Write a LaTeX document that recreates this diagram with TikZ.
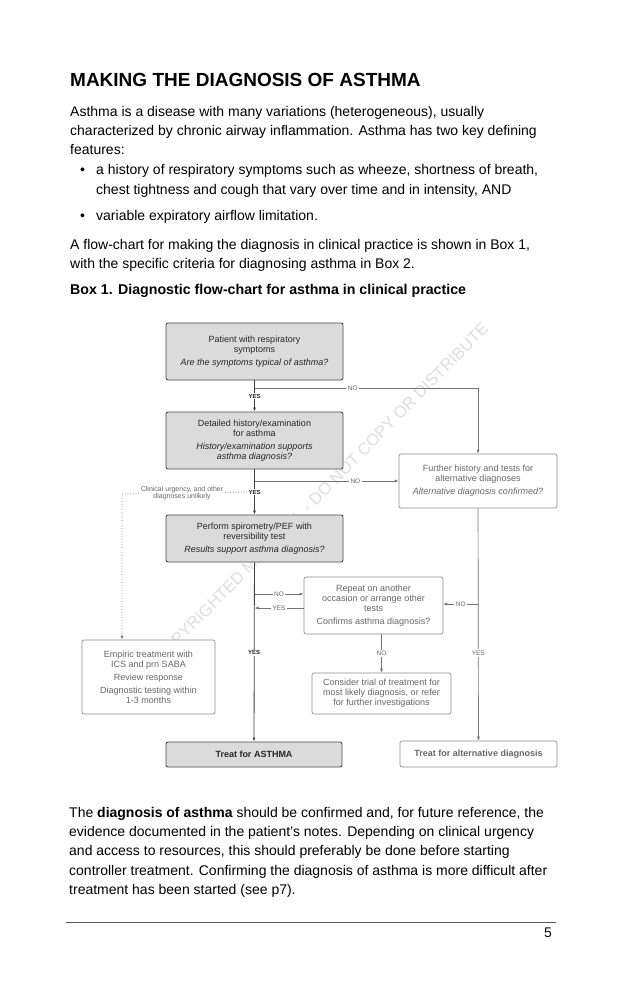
\documentclass[tikz,border=0pt]{standalone}
\usepackage{fontspec}
\setmainfont{Liberation Sans}
\usetikzlibrary{arrows.meta}

\begin{document}
\begin{tikzpicture}[x=1pt,y=-1pt,
  txt/.style={anchor=base west,inner sep=0pt,font=\fontsize{14}{19}\selectfont},
  darkbox/.style={draw=black!70,fill=black!14,rounded corners=2pt,line width=0.9pt,align=center,
    inner sep=0pt,font=\fontsize{9}{10}\selectfont,text=black!85},
  lightbox/.style={draw=black!45,fill=white,rounded corners=2pt,line width=0.7pt,align=center,
    inner sep=0pt,font=\fontsize{9}{10}\selectfont,text=black!60},
  arr/.style={-{Latex[length=4pt,width=3pt]},draw=black!75,line width=0.8pt},
  garr/.style={-{Latex[length=4pt,width=3pt]},draw=black!55,line width=0.7pt},
  ylbl/.style={fill=white,inner sep=1pt,font=\fontsize{6}{6}\selectfont\bfseries,text=black!85},
  glbl/.style={fill=white,inner sep=1.5pt,font=\fontsize{6.5}{7}\selectfont,text=black!60}]

\fill[white] (0,0) rectangle (638,987);
\useasboundingbox (0,0) rectangle (638,987);

% text above the chart
\node[txt,font=\fontsize{19}{20}\selectfont\bfseries] (title) at (70,87) {MAKING THE DIAGNOSIS OF ASTHMA};
\node[txt] (p1) at (70,117) {Asthma is a disease with many variations (heterogeneous), usually};
\node[txt] (p2) at (70,136) {characterized by chronic airway inflammation. Asthma has two key defining};
\node[txt] (p3) at (70,155) {features:};
\node[txt] (b1dot) at (80,175) {•};
\node[txt] (b1) at (96,175) {a history of respiratory symptoms such as wheeze, shortness of breath,};
\node[txt] (b1b) at (96,194) {chest tightness and cough that vary over time and in intensity, AND};
\node[txt] (b2dot) at (80,220) {•};
\node[txt] (b2) at (96,220) {variable expiratory airflow limitation.};
\node[txt] (p4) at (70,249) {A flow-chart for making the diagnosis in clinical practice is shown in Box 1,};
\node[txt] (p5) at (70,268) {with the specific criteria for diagnosing asthma in Box 2.};
\node[txt,font=\fontsize{14.2}{19}\selectfont\bfseries] (boxtitle) at (70,294) {Box 1. Diagnostic flow-chart for asthma in clinical practice};

% watermark
\node[rotate=45.5,text=black!13,font=\fontsize{16.5}{16}\selectfont] (wmark) at (321,493)
  {COPYRIGHTED MATERIAL - DO NOT COPY OR DISTRIBUTE};

% boxes
\node[darkbox,minimum width=177,minimum height=57] (pat) at (254.5,351.5)
  {Patient with respiratory\\symptoms\\[3pt]\textit{Are the symptoms typical of asthma?}};
\node[darkbox,minimum width=177,minimum height=57] (hist) at (254.5,440.5)
  {Detailed history/examination\\for asthma\\[3pt]\textit{History/examination supports}\\\textit{asthma diagnosis?}};
\node[darkbox,minimum width=177,minimum height=47] (spiro) at (254.5,538.5)
  {Perform spirometry/PEF with\\reversibility test\\[3pt]\textit{Results support asthma diagnosis?}};
\node[darkbox,minimum width=176,minimum height=25] (treat) at (254,754.5)
  {\textbf{Treat for ASTHMA}};
\node[lightbox,minimum width=158,minimum height=54] (further) at (478,481)
  {Further history and tests for\\alternative diagnoses\\[3pt]\textit{Alternative diagnosis confirmed?}};
\node[lightbox,minimum width=139,minimum height=57] (repeat) at (373.5,605.5)
  {Repeat on another\\occasion or arrange other\\tests\\[3pt]Confirms asthma diagnosis?};
\node[lightbox,minimum width=139,minimum height=41] (consider) at (381.5,693.5)
  {Consider trial of treatment for\\most likely diagnosis, or refer\\for further investigations};
\node[lightbox,minimum width=133,minimum height=74] (empiric) at (148.5,677)
  {Empiric treatment with\\ICS and prn SABA\\[3pt]Review response\\[3pt]Diagnostic testing within\\1-3 months};
\node[lightbox,minimum width=157,minimum height=26] (alt) at (478.5,754)
  {\textbf{Treat for alternative diagnosis}};

% connectors
\coordinate (nopat) at (254.5,388);
\coordinate (nohist) at (254.5,481);
\coordinate (dotcorner) at (122,494);
\coordinate (nospiro) at (254.5,594);
\coordinate (yesspiro) at (254.5,608);
\coordinate (nofurther) at (478,604);

\draw[arr] (pat) -- node[ylbl] {YES} (hist);
\draw[garr] (nopat) -- node[glbl,pos=0.44] {NO} (nopat -| further) -- (further);
\draw[arr] (hist) -- node[ylbl] (yeshist) {YES} (spiro);
\draw[garr] (nohist) -- node[glbl,pos=0.7] {NO} (further.west);
\draw[garr,dotted,line width=0.9pt] (yeshist.west) -- node[glbl,pos=0.52,align=center,
  font=\fontsize{7}{7.5}\selectfont] {Clinical urgency, and other\\diagnoses unlikely}
  (dotcorner) -- (dotcorner |- empiric.north);
\draw[arr] (spiro) -- node[ylbl,pos=0.505] {YES} (treat);
\draw[garr] (nospiro) -- node[glbl] {NO} (nospiro -| repeat.west);
\draw[garr] (yesspiro -| repeat.west) -- node[glbl] {YES} (yesspiro);
\draw[garr] (further) -- node[glbl,pos=0.622] {YES} (alt);
\draw[garr] (nofurther) -- node[glbl] {NO} (nofurther -| repeat.east);
\draw[garr] (consider.north |- repeat.south) -- node[glbl] {NO} (consider.north);

% text below the chart
\node[txt] (q1) at (69,817) {The \textbf{diagnosis of asthma} should be confirmed and, for future reference, the};
\node[txt] (q2) at (69,836) {evidence documented in the patient’s notes. Depending on clinical urgency};
\node[txt] (q3) at (69,855.5) {and access to resources, this should preferably be done before starting};
\node[txt] (q4) at (69,875) {controller treatment. Confirming the diagnosis of asthma is more difficult after};
\node[txt] (q5) at (69,894) {treatment has been started (see p7).};

\draw[black!65,line width=0.9pt] (66,922) -- (556,922);
\node[txt] (pagenum) at (544,937) {5};

\end{tikzpicture}
\end{document}
